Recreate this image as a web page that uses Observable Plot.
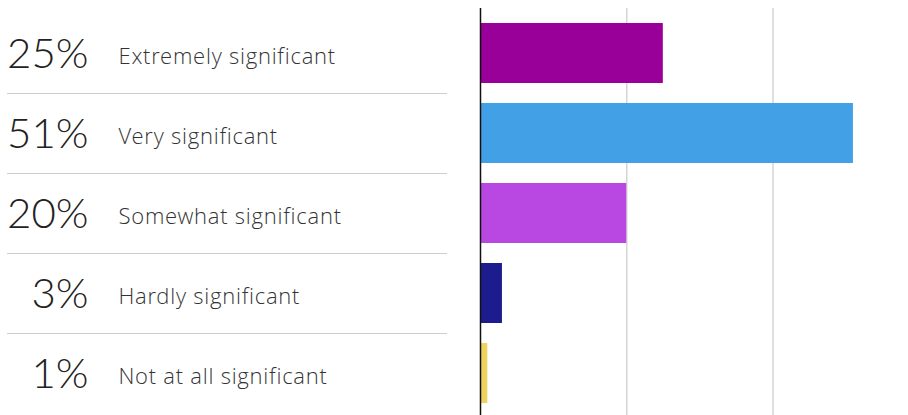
<!DOCTYPE html>
<html>
<head>
<meta charset="utf-8">
<script src="https://cdn.jsdelivr.net/npm/d3@7"></script>
<script src="https://cdn.jsdelivr.net/npm/@observablehq/plot@0.6"></script>
<style>
  html, body { margin: 0; padding: 0; background: #fff; }
  #chart svg { display: block; }
  #chart g[font-family*="Open Sans"] { letter-spacing: 0.75px; }
</style>
</head>
<body>
<div id="chart"></div>
<script>
const categories = ["Extremely significant", "Very significant", "Somewhat significant", "Hardly significant", "Not at all significant"];
const values = [25, 51, 20, 3, 1];
const colors = ["#990099", "#42a1e6", "#b948e3", "#1c1c8e", "#f0d35c"];
const gridTicks = [20, 40];

const data = categories.map((c, i) => ({category: c, value: values[i], color: colors[i]}));

const chart = Plot.plot({
  width: 908,
  height: 415,
  marginTop: 8,
  marginBottom: 0,
  marginLeft: 0,
  marginRight: 0,
  x: {domain: [0, 58.53], range: [480, 908], axis: null},
  y: {domain: categories, range: [11.7, 414.7], padding: 0.25, paddingOuter: 0.125, axis: null},
  style: {background: "#fff"},
  marks: [
    Plot.ruleX(gridTicks, {stroke: "#d4d4d4", strokeWidth: 1.5}),
    Plot.ruleY(categories.slice(0, categories.length - 1), {
      y: d => d, dy: 40, stroke: "#cccccc", strokeWidth: 1.2,
      insetLeft: 7, insetRight: 461
    }),
    Plot.barX(data, {y: "category", x: "value", fill: "color"}),
    Plot.ruleX([0], {stroke: "#111", strokeWidth: 1.5}),
    Plot.text(data, {
      y: "category", text: d => d.value + "%",
      frameAnchor: "left", dx: 88, dy: 1.5, textAnchor: "end",
      fontFamily: "'Lato Light', 'Lato Hairline', Lato", fontWeight: 300, fontSize: 42, fill: "#222"
    }),
    Plot.text(data, {
      y: "category", text: "category",
      frameAnchor: "left", dx: 118, dy: 3, textAnchor: "start",
      fontFamily: "'Open Sans Light', 'Open Sans'", fontWeight: 300, fontSize: 22, fill: "#333"
    })
  ]
});
document.getElementById("chart").appendChild(chart);
</script>
</body>
</html>
